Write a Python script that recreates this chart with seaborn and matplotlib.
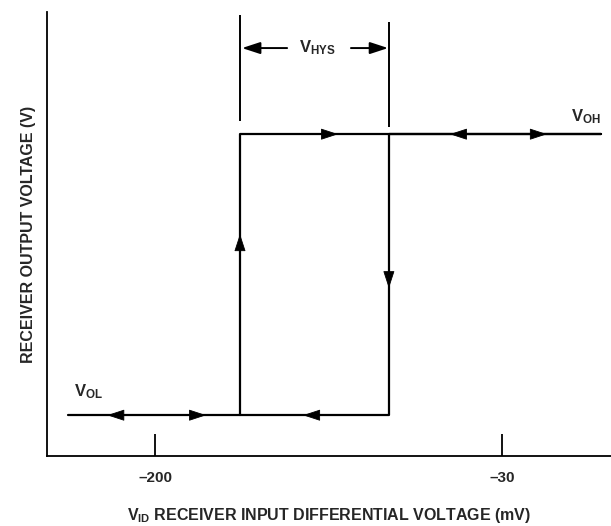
import numpy as np
import pandas as pd
import matplotlib
matplotlib.use("Agg")
import matplotlib.pyplot as plt
import seaborn as sns

# hysteresis loop (mV on x, normalised output level on y)
v_ol = 0.092
v_oh = 0.725
th_low = -158.4
th_high = -85.4
sweep_start = -242.6
sweep_end = 18.5

path_x = [sweep_start, th_high, th_high, sweep_end, th_low, th_low]
path_y = [v_ol, v_ol, v_oh, v_oh, v_oh, v_ol]

tick_values = [-200, -30]
tick_labels = ["\u2013200", "\u201330"]

# arrow heads on the loop: tip x, tip y, direction
arrow_x = [-223.5, -175.0, -127.5, -110.3, -55.5, -7.9, th_low, th_high]
arrow_y = [v_ol, v_ol, v_ol, v_oh, v_oh, v_oh, 0.50, 0.378]
arrow_dir = ["left", "right", "left", "right", "left", "right", "up", "down"]

# V_HYS dimension marker
hys_y = 0.919
hys_tail_x = [-135.3, -104.0]
hys_tip_x = [-157.4, -85.8]
marker_top = [0.993, 0.977]
marker_bottom = [0.755, 0.741]

sns.set_theme(style="white")
plt.rcParams["font.family"] = ["Liberation Sans", "DejaVu Sans"]
plt.rcParams["font.weight"] = "bold"
plt.rcParams["mathtext.fontset"] = "custom"
plt.rcParams["mathtext.rm"] = "Liberation Sans:bold"
plt.rcParams["mathtext.bf"] = "Liberation Sans:bold"
plt.rcParams["mathtext.it"] = "Liberation Sans:bold"

fig = plt.figure(figsize=(6.11, 5.26), dpi=100)
ax = fig.add_axes([0.077, 0.133, 0.923, 0.844])

df = pd.DataFrame({"x": path_x, "y": path_y})
sns.lineplot(data=df, x="x", y="y", sort=False, estimator=None,
             color="black", linewidth=1.6, ax=ax)

# vertical marker lines for hysteresis width
ax.vlines([th_low, th_high], marker_bottom, marker_top, color="black", linewidth=1.4)

head = "-|>,head_length=11,head_width=3.6"
offsets = {"left": (11, 0), "right": (-11, 0), "up": (0, -11), "down": (0, 11)}
for x, y, d in zip(arrow_x, arrow_y, arrow_dir):
    ax.annotate("", xy=(x, y), xytext=offsets[d], textcoords="offset points",
                arrowprops=dict(arrowstyle=head, mutation_scale=1, color="black",
                                lw=0.6, shrinkA=0, shrinkB=0))

for tx, hx in zip(hys_tail_x, hys_tip_x):
    ax.annotate("", xy=(hx, hys_y), xytext=(tx, hys_y),
                arrowprops=dict(arrowstyle=head, mutation_scale=1, color="black",
                                lw=1.4, shrinkA=0, shrinkB=0))

ax.text(-120.5, hys_y, r"V$_{\mathbf{HYS}}$", ha="center", va="center", fontsize=12, fontweight="bold")
ax.text(sweep_end, 0.764, r"V$_{\mathbf{OH}}$", ha="right", va="center", fontsize=12, fontweight="bold")
ax.text(-239.7, 0.146, r"V$_{\mathbf{OL}}$", ha="left", va="center", fontsize=12, fontweight="bold")

ax.set_xlim(-253, 23.5)
ax.set_ylim(0, 1)
ax.set_xticks(tick_values)
ax.set_xticklabels(tick_labels, fontsize=11, fontweight="bold")
ax.set_yticks([])
ax.tick_params(axis="x", direction="in", length=16, width=1.3, pad=11, color="black", bottom=True)
for side in ["top", "right"]:
    ax.spines[side].set_visible(False)
for side in ["left", "bottom"]:
    ax.spines[side].set_color("black")
    ax.spines[side].set_linewidth(1.3)

ax.set_xlabel(r"V$_{\mathbf{ID}}$ RECEIVER INPUT DIFFERENTIAL VOLTAGE (mV)",
              fontsize=11.5, fontweight="bold", labelpad=15)
ax.set_ylabel("RECEIVER OUTPUT VOLTAGE (V)", fontsize=11.5, fontweight="bold", labelpad=8)

fig.savefig("out.png", dpi=100)
